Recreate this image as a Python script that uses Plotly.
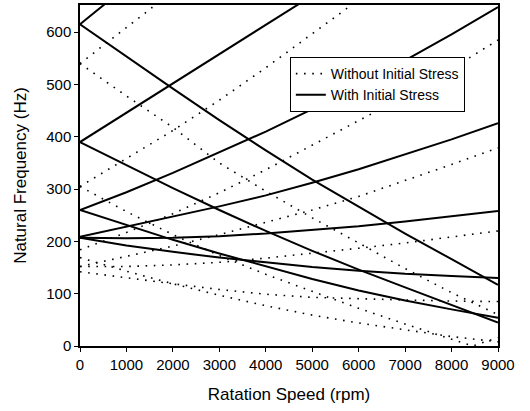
import plotly.graph_objects as go

# Rotation speed grid (rpm)
rpm = [0, 1000, 2000, 3000, 4000, 5000, 6000, 7000, 8000, 9000]

# ---- With initial stress (solid) ----
with_A = [615, 688, 760, 830, 900, 970, 1040, 1110, 1180, 1250]
with_B = [615, 553, 492, 432, 374, 318, 266, 215, 166, 117]
with_C = [390, 446, 502, 558, 614, 670, 726, 782, 838, 894]
with_D = [390, 346, 302, 260, 220, 182, 146, 112, 78, 45]
with_E = [209, 228, 247, 267, 288, 312, 338, 366, 395, 426]
with_F = [260, 231, 203, 177, 152, 128, 106, 87, 70, 54]
with_G = [207, 206, 207, 210, 215, 222, 229, 238, 248, 258]
with_H = [207, 192, 180, 169, 160, 151, 144, 138, 134, 130]
with_K = [260, 294, 331, 370, 410, 453, 499, 546, 596, 648]

# ---- Without initial stress (dotted) ----
wo_a = [540, 609, 678, 747, 816, 885, 954, 1023, 1092, 1161]
wo_b = [540, 478, 418, 350, 296, 245, 197, 148, 102, 60]
wo_c = [305, 358, 412, 470, 532, 597, 662, 727, 792, 857]
wo_K = [184, 217, 253, 293, 337, 384, 430, 478, 530, 585]
wo_E = [152, 171, 191, 213, 236, 260, 286, 316, 347, 379]
wo_G = [152, 152, 155, 160, 168, 177, 187, 197, 208, 220]
wo_H = [142, 130, 119, 108, 99, 93, 90, 88, 86, 85]
wo_F = [169, 143, 119, 97, 77, 59, 44, 31, 18, 8]
rpm_D = [0, 1000, 2000, 3000, 4000, 5000, 6000, 7000, 8000, 8450, 9000]
wo_D = [305, 257, 213, 173, 137, 104, 72, 42, 13, 0, 16]

fig = go.Figure()

dotted = [(rpm, wo_a), (rpm, wo_b), (rpm, wo_c), (rpm, wo_K), (rpm, wo_E),
          (rpm, wo_G), (rpm, wo_H), (rpm, wo_F), (rpm_D, wo_D)]
for i, (xs, ys) in enumerate(dotted):
    fig.add_trace(go.Scatter(
        x=xs, y=ys, mode="lines",
        line=dict(color="black", width=1.6, dash="1.6px,6.6px"),
        name="Without Initial Stress", legendgroup="wo", showlegend=(i == 0)))

solid = [with_A, with_B, with_C, with_D, with_E, with_F, with_G, with_H, with_K]
for i, ys in enumerate(solid):
    fig.add_trace(go.Scatter(
        x=rpm, y=ys, mode="lines",
        line=dict(color="black", width=2),
        name="With Initial Stress", legendgroup="w", showlegend=(i == 0)))

FONT = "Liberation Sans, Arial, sans-serif"
axis_font = dict(family=FONT, size=15, color="black")
fig.update_layout(
    width=530, height=411,
    margin=dict(l=80, r=32, t=5, b=65, autoexpand=False),
    paper_bgcolor="white", plot_bgcolor="white",
    font=dict(family=FONT, size=15, color="black"),
    showlegend=True,
    legend=dict(x=0.502, y=0.8475, xanchor="left", yanchor="top",
                bgcolor="white", bordercolor="black", borderwidth=1,
                font=dict(size=14, family=FONT),
                tracegroupgap=0, itemwidth=30),
)
fig.update_xaxes(
    range=[0, 9000], tickvals=[0, 1000, 2000, 3000, 4000, 5000, 6000, 7000, 8000, 9000],
    showgrid=False, zeroline=False, showline=True, linecolor="black", linewidth=1.5,
    mirror=True, ticks="outside", ticklen=4, tickcolor="black", tickfont=axis_font,
    automargin=False,
    title=dict(text="Ratation Speed (rpm)", font=dict(size=17), standoff=16))
fig.update_yaxes(
    range=[0, 652], tickvals=[0, 100, 200, 300, 400, 500, 600],
    showgrid=False, zeroline=False, showline=True, linecolor="black", linewidth=1.5,
    mirror=True, ticks="outside", ticklen=4, tickcolor="black", tickfont=axis_font,
    automargin=False,
    title=dict(text="Natural Frequency (Hz)", font=dict(size=17), standoff=15))

fig.write_html("out.html", config={"displayModeBar": False},
               post_script="document.body.style.margin='0';")
